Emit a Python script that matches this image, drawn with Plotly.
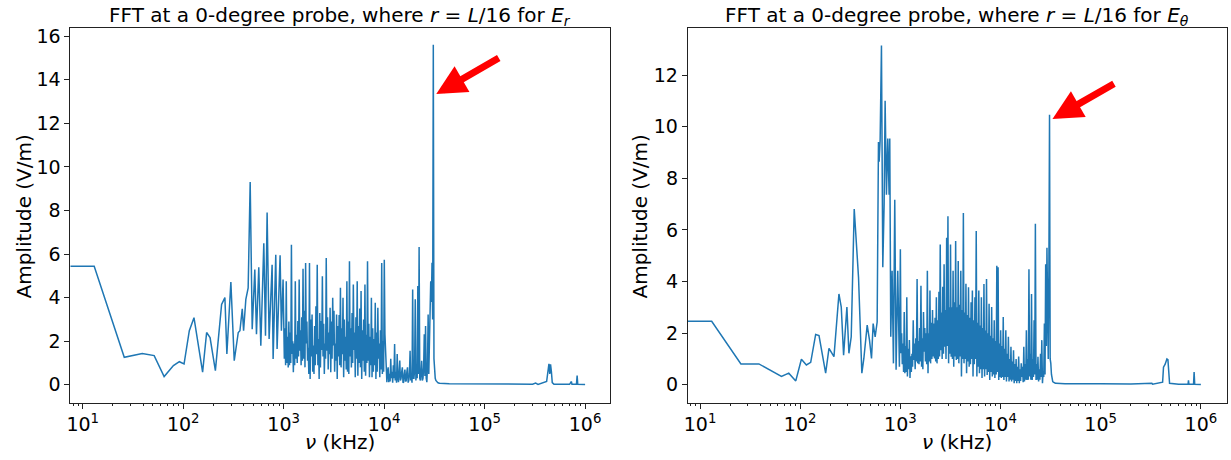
import math
import plotly.graph_objects as go

# ---------------- data (frequency in kHz, amplitude in V/m) ----------------
# E_r : sparse low-frequency part (first entry stands in for the DC bin)
er_low_freq = [1, 13.0, 25.9, 39.1, 51.4, 64.6, 79.9, 91.6, 102, 115,
               128, 156, 171, 185, 209, 241, 260, 272, 298, 322,
               353, 367, 387, 399, 420, 443, 464, 486, 516, 536,
               565, 592, 634, 659, 684, 716, 767, 785, 834, 860,
               921, 949, 986]
er_low_amp = [5.44, 5.44, 1.26, 1.44, 1.34, 0.38, 0.88, 1.06, 0.96, 2.48,
              3.08, 0.58, 2.40, 2.17, 0.65, 3.69, 4.00, 1.41, 4.72, 1.11,
              2.40, 2.48, 3.49, 2.48, 3.92, 4.45, 9.30, 2.55, 5.29, 2.32,
              5.39, 1.79, 6.50, 2.25, 7.91, 2.10, 5.51, 1.18, 5.97, 1.64,
              5.94, 2.48, 4.83]

# shared dense band (1 MHz - 36 MHz)
band_freq = [1000, 1015, 1030, 1045, 1061, 1077, 1093, 1109, 1126, 1142,
             1159, 1176, 1194, 1212, 1230, 1248, 1267, 1286, 1305, 1324,
             1344, 1364, 1384, 1405, 1426, 1447, 1469, 1491, 1513, 1535,
             1558, 1581, 1605, 1629, 1653, 1677, 1702, 1728, 1754, 1780,
             1806, 1833, 1860, 1888, 1916, 1945, 1974, 2003, 2033, 2063,
             2094, 2125, 2157, 2189, 2221, 2254, 2288, 2322, 2357, 2392,
             2427, 2463, 2500, 2537, 2575, 2613, 2652, 2692, 2732, 2773,
             2814, 2856, 2898, 2941, 2985, 3030, 3075, 3121, 3167, 3214,
             3262, 3311, 3360, 3410, 3461, 3512, 3564, 3617, 3671, 3726,
             3781, 3837, 3895, 3953, 4012, 4072, 4132, 4194, 4256, 4320,
             4384, 4449, 4515, 4583, 4651, 4720, 4790, 4862, 4934, 5008,
             5082, 5158, 5235, 5313, 5392, 5472, 5553, 5636, 5720, 5805,
             5891, 5979, 6068, 6158, 6250, 6343, 6438, 6534, 6631, 6730,
             6830, 6932, 7035, 7140, 7246, 7354, 7463, 7574, 7687, 7802,
             7918, 8036, 8155, 8276, 8400, 8525, 8652, 8781, 8912, 9045,
             9179, 9315, 9454, 9595, 9738, 9883, 10030, 10180, 10331, 10485,
             10641, 10800, 10960, 11124, 11289, 11457, 11628, 11801, 11977, 12155,
             12336, 12520, 12706, 12895, 13087, 13282, 13480, 13680, 13884, 14091,
             14301, 14514, 14730, 14949, 15172, 15398, 15627, 15860, 16096, 16336,
             16579, 16826, 17076, 17330, 17588, 17850, 18116, 18386, 18659, 18937,
             19219, 19505, 19796, 20091, 20390, 20694, 21001, 21314, 21631, 21953,
             22280, 22612, 22949, 23290, 23637, 23989, 24346, 24709, 25077, 25450,
             25829, 26214, 26604, 27000, 27402, 27810, 28224, 28645, 29071, 29504,
             29943, 30389, 30841, 31301, 31766, 32239, 32719, 33207, 33701, 34203,
             34712, 35229, 35753]

er_band_amp = [3.2, 1.2, 2.6, 0.9, 4.75, 1.0, 2.2, 0.8, 2.9, 0.9,
               2.4, 1.0, 6.43, 1.41, 2.0, 0.58, 1.9, 0.9, 4.75, 1.2,
               2.3, 1.0, 2.93, 1.3, 4.83, 1.56, 2.5, 0.9, 3.1, 1.1,
               5.33, 1.2, 3.4, 0.8, 5.59, 1.9, 2.9, 1.11, 1.7, 0.5,
               5.59, 0.27, 3.0, 1.3, 3.23, 0.6, 1.8, 0.5, 2.7, 0.9,
               3.6, 1.4, 5.51, 0.9, 2.1, 0.27, 3.3, 0.8, 2.93, 1.6,
               4.98, 1.3, 2.8, 0.5, 1.9, 1.2, 5.82, 1.56, 3.1, 0.7,
               2.4, 1.4, 3.54, 0.58, 2.9, 1.2, 4.0, 1.8, 3.4, 0.6,
               1.9, 1.1, 3.23, 0.27, 2.7, 1.3, 3.2, 0.9, 4.45, 0.8,
               2.6, 1.4, 4.0, 0.35, 3.0, 1.1, 2.2, 0.7, 4.75, 0.6,
               2.9, 0.5, 5.67, 1.3, 2.6, 0.8, 3.3, 1.0, 4.6, 1.6,
               2.4, 0.35, 3.1, 1.2, 4.75, 0.42, 2.7, 1.0, 3.5, 0.8,
               4.3, 0.27, 2.5, 1.1, 3.0, 0.6, 4.6, 0.42, 2.3, 1.0,
               5.67, 1.1, 2.8, 0.35, 2.2, 0.9, 4.0, 0.35, 2.6, 0.6,
               2.1, 0.9, 3.77, 0.27, 2.4, 0.6, 3.54, 1.2, 1.9, 0.35,
               2.5, 0.7, 5.59, 0.5, 2.0, 0.6, 5.74, 2.32, 1.2, 0.3,
               0.12, 0.6, 0.8, 0.12, 0.5, 0.15, 1.2, 0.3, 0.6, 0.1,
               0.9, 0.3, 1.87, 0.2, 0.6, 0.1, 1.41, 0.3, 0.12, 0.6,
               1.11, 0.2, 0.3, 0.6, 0.8, 0.1, 0.12, 0.5, 0.7, 0.15,
               0.2, 0.6, 0.8, 0.1, 0.2, 0.5, 1.56, 0.2, 0.4, 0.1,
               4.37, 0.3, 0.3, 0.7, 3.92, 0.2, 0.8, 0.3, 4.53, 0.5,
               6.32, 0.3, 0.2, 0.6, 1.1, 0.2, 0.3, 0.8, 2.32, 0.4,
               2.7, 0.3, 0.12, 0.9, 3.23, 0.5, 1.71, 2.5, 4.75, 3.8,
               5.6, 3.0, 15.6, 1.2, 0.5, 0.3, 0.2, 0.15, 0.12, 0.1,
               0.08, 0.07, 0.07]

er_high_freq = [44500, 100000, 200000, 300000, 321600, 340000, 414000, 425000, 436500, 445000,
                453000, 462000, 471000, 490000, 700000, 731000, 740000, 820000, 833000, 845000,
                1000000]
er_high_amp = [0.05, 0.03, 0.02, 0.03, 0.08, 0.02, 0.15, 0.6, 0.96, 0.5,
               0.94, 0.6, 0.1, 0.02, 0.02, 0.15, 0.02, 0.02, 0.42, 0.02,
               0.01]

# E_theta
eth_low_freq = [1, 13.07, 25.6, 38.7, 65.0, 76.9, 90.3, 102.8, 115.3, 127.3,
                142.7, 154.1, 179.5, 193.8, 217.3, 243.6, 257.0, 271.2, 292.6, 306.4,
                323.2, 346.2, 382.2, 412.6, 432.0, 466.4, 491.9, 515.0, 535.0, 560.1,
                586.4, 604.5, 613.8, 628.1, 647.5, 667.6, 688.3, 704.3, 726.1, 748.7,
                772.0, 783.8, 802.1, 826.9, 852.6, 879.0, 906.3, 941.6, 978.3]
eth_low_amp = [2.46, 2.46, 0.81, 0.81, 0.32, 0.45, 0.15, 0.99, 0.77, 0.87,
               1.95, 1.91, 0.45, 1.41, 1.09, 3.52, 3.01, 1.15, 3.01, 1.22,
               1.86, 6.81, 4.16, 0.45, 1.02, 2.31, 1.73, 1.02, 2.37, 1.86,
               2.43, 9.41, 8.64, 9.48, 13.15, 4.55, 7.0, 11.0, 7.36, 9.54,
               7.36, 9.54, 1.86, 4.42, 0.83, 7.17, 0.58, 4.42, 0.70]

eth_band_amp = [5.25, 1.22, 2.0, 0.8, 1.6, 0.5, 2.82, 0.45, 1.5, 0.5,
                3.39, 0.32, 1.4, 0.6, 1.73, 0.26, 1.1, 0.5, 1.2, 0.7,
                2.5, 0.96, 1.6, 0.6, 1.8, 0.9, 4.1, 0.83, 1.7, 0.8,
                2.2, 0.9, 3.84, 0.7, 1.8, 0.6, 2.82, 1.28, 2.2, 0.9,
                2.0, 0.8, 4.42, 0.45, 2.0, 0.9, 3.65, 0.83, 2.4, 1.0,
                2.9, 1.1, 2.37, 1.02, 2.6, 0.9, 3.39, 0.83, 2.5, 1.0,
                3.6, 1.1, 5.44, 1.34, 2.8, 1.0, 3.8, 1.2, 4.67, 1.47,
                2.9, 1.0, 5.7, 1.5, 6.53, 0.83, 3.0, 1.2, 5.44, 1.09,
                3.0, 1.0, 4.42, 0.7, 3.2, 1.1, 5.57, 0.96, 3.0, 1.0,
                4.8, 0.83, 3.1, 1.1, 4.42, 0.32, 2.9, 1.0, 6.66, 0.83,
                2.8, 1.0, 3.91, 0.45, 2.7, 0.9, 3.78, 0.7, 2.6, 0.8,
                3.2, 1.0, 3.65, 0.32, 2.5, 0.8, 3.39, 1.0, 5.96, 0.32,
                2.4, 0.7, 3.65, 0.45, 2.3, 0.6, 3.39, 0.26, 2.2, 0.6,
                3.9, 0.32, 2.1, 0.6, 4.1, 0.38, 2.0, 0.5, 3.14, 0.19,
                1.9, 0.5, 3.01, 0.32, 1.8, 0.4, 2.5, 0.26, 1.7, 0.4,
                4.61, 0.5, 4.55, 0.19, 1.6, 0.3, 2.11, 0.26, 1.5, 0.3,
                2.63, 0.19, 1.4, 0.3, 2.11, 0.13, 1.2, 0.3, 1.86, 0.13,
                1.0, 0.2, 1.47, 0.13, 0.9, 0.2, 1.34, 0.06, 0.8, 0.15,
                1.0, 0.06, 0.7, 0.15, 1.1, 0.06, 0.6, 0.15, 0.83, 0.3,
                0.7, 0.1, 1.47, 0.13, 0.8, 0.2, 2.11, 0.19, 1.0, 0.2,
                4.48, 0.32, 1.2, 0.2, 3.52, 0.19, 1.0, 0.3, 2.5, 0.4,
                6.24, 0.19, 0.8, 0.2, 1.09, 0.13, 0.6, 0.2, 1.2, 0.3,
                1.73, 0.06, 0.5, 0.3, 2.37, 0.4, 4.67, 1.5, 5.31, 3.0,
                1.0, 4.5, 10.46, 1.0, 0.83, 0.4, 0.19, 0.12, 0.1, 0.08,
                0.07, 0.06, 0.06]

eth_high_freq = [44000, 99300, 200000, 324000, 330000, 415000, 423600, 440000, 458000, 469000,
                 480000, 487000, 600000, 745000, 752000, 760000, 845000, 856000, 868000, 1000000]
eth_high_amp = [0.04, 0.04, 0.03, 0.06, 0.02, 0.1, 0.68, 0.8, 1.0, 0.97,
                0.5, 0.06, 0.02, 0.02, 0.17, 0.02, 0.02, 0.49, 0.02, 0.01]

x_tick_vals = [10, 100, 1000, 10000, 100000, 1000000]
x_tick_text = ["10<sup>1</sup>", "10<sup>2</sup>", "10<sup>3</sup>",
               "10<sup>4</sup>", "10<sup>5</sup>", "10<sup>6</sup>"]

titles = ["FFT at a 0-degree probe, where <i>r</i> = <i>L</i>/16 for <i>E</i><sub><i>r</i></sub>",
          "FFT at a 0-degree probe, where <i>r</i> = <i>L</i>/16 for <i>E</i><sub><i>θ</i></sub>"]
x_label = "<i>ν</i> (kHz)"
y_label = "Amplitude (V/m)"

# ---------------- figure ----------------
er_freq = er_low_freq + band_freq + er_high_freq
er_amp = er_low_amp + er_band_amp + er_high_amp
eth_freq = eth_low_freq + band_freq + eth_high_freq
eth_amp = eth_low_amp + eth_band_amp + eth_high_amp
n = min(len(er_freq), len(er_amp))
er_freq, er_amp = er_freq[:n], er_amp[:n]
n = min(len(eth_freq), len(eth_amp))
eth_freq, eth_amp = eth_freq[:n], eth_amp[:n]

BLUE = "#1f77b4"
AX = "#222222"
FONT = "DejaVu Sans"
W, H = 1231, 460

fig = go.Figure()
fig.add_trace(go.Scatter(x=er_freq, y=er_amp, mode="lines", line=dict(color=BLUE, width=1.5),
                         xaxis="x", yaxis="y", showlegend=False, hoverinfo="skip"))
fig.add_trace(go.Scatter(x=eth_freq, y=eth_amp, mode="lines", line=dict(color=BLUE, width=1.5),
                         xaxis="x2", yaxis="y2", showlegend=False, hoverinfo="skip"))

minor_vals = [m * 10 ** k for k in range(0, 7) for m in range(2, 10)]

def xaxis(domain, rng, anchor):
    return dict(type="log", domain=domain, range=rng, anchor=anchor,
                showgrid=False, zeroline=False, showline=True, linecolor=AX, linewidth=1,
                mirror=True, ticks="outside", ticklen=5, tickwidth=1, tickcolor=AX,
                tickmode="array", tickvals=x_tick_vals, ticktext=x_tick_text,
                tickfont=dict(family=FONT, size=19, color="black"),
                minor=dict(tickmode="array", tickvals=minor_vals, ticks="outside",
                           ticklen=2.5, tickwidth=0.8, tickcolor=AX, showgrid=False))

def yaxis(rng, anchor):
    return dict(domain=[57.7 / H, 1 - 25 / H], range=rng, anchor=anchor,
                showgrid=False, zeroline=False, showline=True, linecolor=AX, linewidth=1,
                mirror=True, ticks="outside", ticklen=5, tickwidth=1, tickcolor=AX,
                dtick=2, tick0=0, tickfont=dict(family=FONT, size=19, color="black"))

left_dom = [66.7 / W, 608.3 / W]
right_dom = [686 / W, 1226.7 / W]

fig.update_layout(
    width=W, height=H, margin=dict(l=0, r=0, t=0, b=0),
    paper_bgcolor="white", plot_bgcolor="white",
    xaxis=xaxis(left_dom, [0.878, 6.251], "y"),
    yaxis=yaxis([-0.82, 16.38], "x"),
    xaxis2=xaxis(right_dom, [0.8776, 6.258], "y2"),
    yaxis2=yaxis([-0.693, 13.83], "x2"),
)

ann = []
for dom, title in zip([left_dom, right_dom], titles):
    cx = (dom[0] + dom[1]) / 2
    ann.append(dict(text=title, xref="paper", yref="paper", x=cx, y=1 - 13.5 / H,
                    xanchor="center", yanchor="middle", showarrow=False,
                    font=dict(family=FONT, size=20, color="black")))
    ann.append(dict(text=x_label, xref="paper", yref="paper", x=cx, y=1 - 442 / H,
                    xanchor="center", yanchor="middle", showarrow=False,
                    font=dict(family=FONT, size=20, color="black")))
for px in [20, 638]:
    ann.append(dict(text=y_label, xref="paper", yref="paper", x=px / W, y=1 - 215 / H,
                    xanchor="center", yanchor="middle", textangle=-90, showarrow=False,
                    font=dict(family=FONT, size=20, color="black")))

# red arrows pointing at the main peaks
ann.append(dict(text="", xref="x", yref="y", x=math.log10(33000), y=13.34,
                ax=64, ay=-37, axref="pixel", ayref="pixel", showarrow=True,
                arrowhead=2, arrowsize=0.85, arrowwidth=7, arrowcolor="red", standoff=0))
ann.append(dict(text="", xref="x2", yref="y2", x=math.log10(33000), y=10.30,
                ax=63, ay=-36, axref="pixel", ayref="pixel", showarrow=True,
                arrowhead=2, arrowsize=0.85, arrowwidth=7, arrowcolor="red", standoff=0))
fig.update_layout(annotations=ann)

fig.write_html("out.html")
